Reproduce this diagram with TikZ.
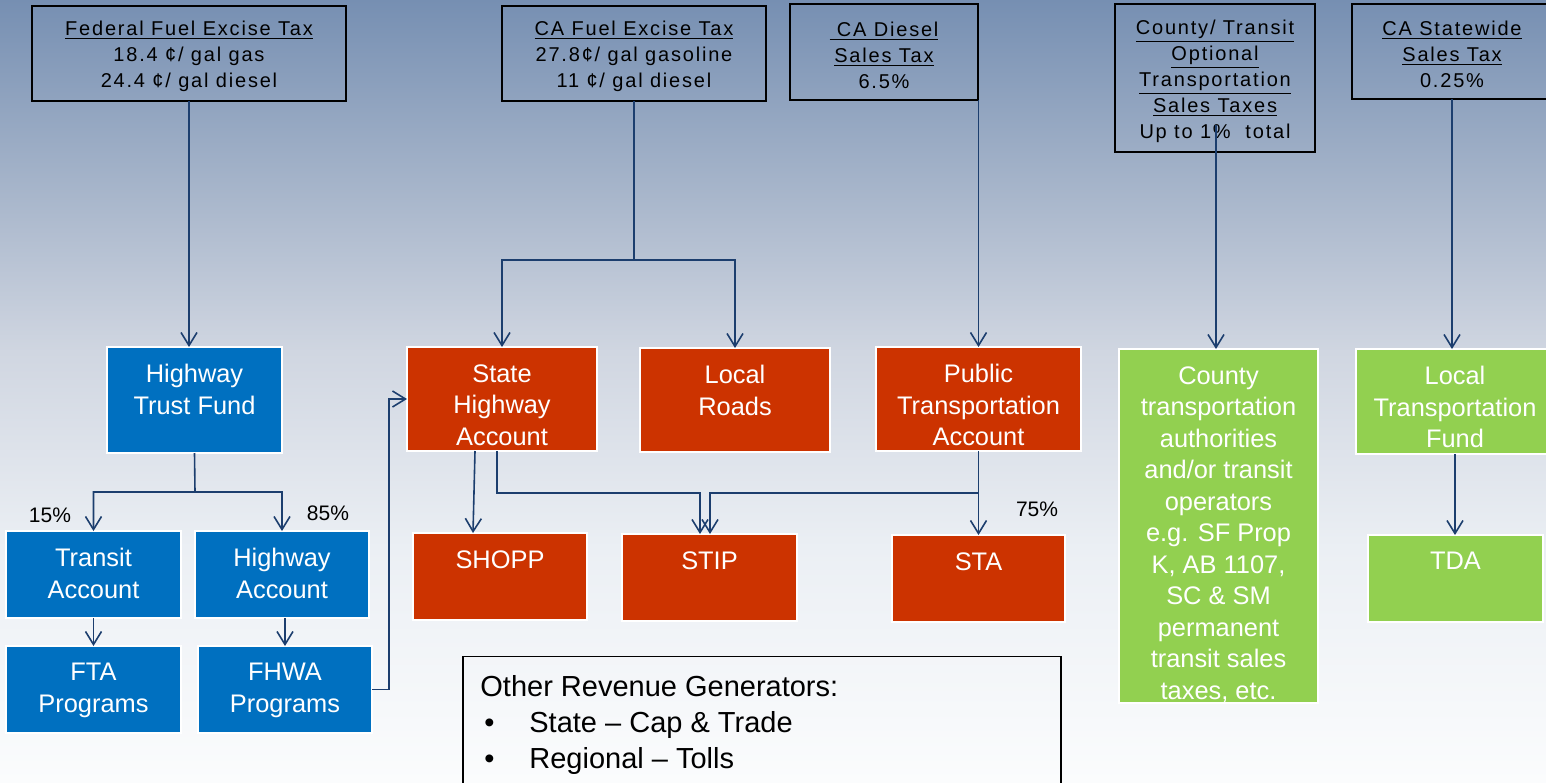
\documentclass[tikz,border=0pt]{standalone}
\usepackage{fontspec}
\setmainfont{Liberation Sans}
\newfontfamily\spacedfont[LetterSpace=9]{Liberation Sans}
\usetikzlibrary{arrows.meta,calc}
\definecolor{bgA}{RGB}{118,143,178}
\definecolor{bgB}{RGB}{168,182,203}
\definecolor{bgC}{RGB}{208,214,225}
\definecolor{bgD}{RGB}{235,239,244}
\definecolor{bgE}{RGB}{251,252,253}
\definecolor{fblue}{RGB}{0,112,192}
\definecolor{fred}{RGB}{204,51,0}
\definecolor{fgreen}{RGB}{146,208,80}
\definecolor{conn}{RGB}{28,62,110}
\pgfdeclareverticalshading{bgshade}{100bp}{color(0bp)=(bgE); color(25bp)=(bgE); color(40bp)=(bgD); color(52.5bp)=(bgC); color(62.5bp)=(bgB); color(75bp)=(bgA); color(100bp)=(bgA)}
\tikzset{
  srcbox/.style={draw=black, line width=0.6pt, inner sep=0pt, outer sep=0pt},
  srctext/.style={inner sep=0pt, align=center, yshift=-1.5pt,
    font=\spacedfont\fontsize{10}{13}\selectfont},
  colbox/.style={draw=white, line width=0.6pt, inner sep=0pt, outer sep=0pt},
  bluebox/.style={colbox, fill=fblue},
  redbox/.style={colbox, fill=fred},
  greenbox/.style={colbox, fill=fgreen},
  boxtext/.style={text=white, inner sep=0pt, align=center, anchor=north, yshift=-8.5pt,
    font=\fontsize{12.7}{15.75}\selectfont},
  arr/.style={draw=conn, line width=0.8pt, -{Straight Barb[length=6.5pt,width=8pt]}},
  pct/.style={font=\fontsize{10.5}{12}\selectfont, text=black, inner sep=0pt}
}
\newcommand\cbox[7]{%
  \node[#2, minimum width={(#5-#3)*0.5pt}, minimum height={(#6-#4)*0.5pt}] (#1) at ({(#3+#5)/2},{(#4+#6)/2}) {};
  \node[boxtext] (#1-t) at (#1.north) {#7};}
\newcommand\srcnode[6]{%
  \node[srcbox, minimum width={(#4-#2)*0.5pt}, minimum height={(#5-#3)*0.5pt}] (#1) at ({(#2+#4)/2},{(#3+#5)/2}) {};
  \node[srctext] (#1-t) at (#1.center) {#6};}
\begin{document}
\begin{tikzpicture}[x=0.5pt,y=-0.5pt]
\useasboundingbox (0,0) rectangle (1546,782);
\clip (0,0) rectangle (1546,782);
\shade[shading=bgshade] (0,0) rectangle (1546,782);

% source boxes
\srcnode{fed}{32}{6}{346}{101}{\underline{Federal Fuel Excise Tax}\\18.4 ¢/ gal gas\\24.4 ¢/ gal diesel}
\srcnode{cafuel}{502}{6}{766}{101}{\underline{CA Fuel Excise Tax}\\27.8¢/ gal gasoline\\11 ¢/ gal diesel}
\srcnode{diesel}{790}{4}{978}{100}{\underline{\ CA Diesel}\\\underline{Sales Tax}\\6.5\%}
\srcnode{cot}{1115}{4}{1315}{152}{\underline{County/ Transit}\\\underline{Optional}\\\underline{Transportation}\\\underline{Sales Taxes}\\Up to 1\%\ \ total}
\srcnode{csw}{1352}{4}{1552}{99}{\underline{CA Statewide}\\\underline{Sales Tax}\\0.25\%}

% blue
\cbox{htf}{bluebox}{107}{347}{282}{453}{Highway\\Trust Fund}
\cbox{ta}{bluebox}{6}{531}{181}{618}{Transit\\Account}
\cbox{ha}{bluebox}{195}{531}{369}{618}{Highway\\Account}
\cbox{fta}{bluebox}{6}{646}{181}{733}{FTA\\Programs}
\cbox{fhwa}{bluebox}{198}{646}{372}{733}{FHWA\\Programs}
% red
\cbox{sha}{redbox}{407}{347}{597}{451}{State\\Highway\\Account}
\cbox{lr}{redbox}{640}{348}{830}{452}{Local\\Roads}
\cbox{pta}{redbox}{876}{347}{1081}{451}{Public\\Transportation\\Account}
\cbox{shopp}{redbox}{413}{533}{587}{620}{SHOPP}
\cbox{stip}{redbox}{622}{534}{797}{621}{STIP}
\cbox{sta}{redbox}{892}{535}{1065}{622}{STA}
% green
\cbox{cta}{greenbox}{1119}{349}{1318}{703}{County\\transportation\\authorities\\and/or transit\\operators\\e.g. SF Prop\\K, AB 1107,\\SC \& SM\\permanent\\transit sales\\taxes, etc.}
\cbox{ltf}{greenbox}{1356}{349}{1554}{454}{Local\\Transportation\\Fund}
\cbox{tda}{greenbox}{1368}{535}{1543}{622}{TDA}

% other revenue
\node[draw=black, line width=0.7pt, inner sep=0pt, minimum width=299pt, minimum height=77pt] (rev) at (762,733.5) {};
\node[anchor=north west, align=left, inner sep=0pt, font=\fontsize{14.5}{18}\selectfont] (revt) at (480,675)
  {Other Revenue Generators:\\\makebox[24.5pt][l]{\hspace*{2pt}•}State – Cap \& Trade\\\makebox[24.5pt][l]{\hspace*{2pt}•}Regional – Tolls};

% labels
\node[pct] (p15) at (50,515) {15\%};
\node[pct] (p85) at (328,513) {85\%};
\node[pct] (p75) at (1037,509) {75\%};

% connectors
\draw[arr] (fed.south) -- (fed.south |- htf.north);
\coordinate (j1) at (195,492);
\draw[arr] (htf.south) -- (j1) -| (ta.north);
\draw[arr] (j1) -| (ha.north);
\draw[arr] (ta.south) -- (fta.north);
\draw[arr] (fhwa.north |- ha.south) -- (fhwa.north);
\draw[arr] (fhwa.east) -- ++(17,0) |- (sha.west);

\coordinate (j2) at (634,260);
\draw[arr] (cafuel.south) -- (j2) -| (sha.north);
\draw[arr] (j2) -| (lr.north);
\draw[arr] (pta.north |- diesel.south) -- (pta.north);

\draw[arr] ([xshift=-13.5pt]sha.south) -- ([xshift=-13.5pt]shopp.north);
\coordinate (j3) at (700,493);
\coordinate (j4) at (710,493);
\draw[arr] ([xshift=-2.5pt]sha.south) |- (j3) -- (j3 |- stip.north);
\draw[arr] (pta.south) |- (j4) -- (j4 |- stip.north);
\draw[arr] (pta.south) -- (sta.north);

\coordinate (c125) at (1216,125);
\draw[arr] (c125) -- (c125 |- cta.north);
\draw[arr] (csw.south) -- (csw.south |- ltf.north);
\draw[arr] (ltf.south) -- (ltf.south |- tda.north);
\end{tikzpicture}
\end{document}
